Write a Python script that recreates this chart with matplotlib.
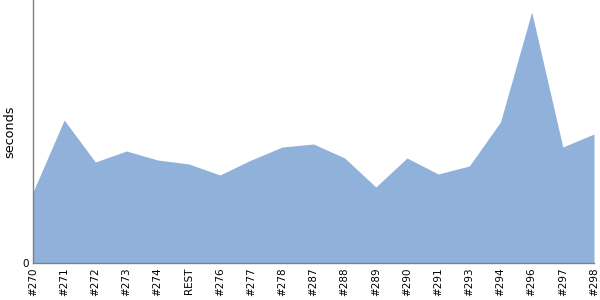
import matplotlib
matplotlib.use("Agg")
import matplotlib.pyplot as plt
import numpy as np

## Data
builds = ["#270", "#271", "#272", "#273", "#274", "REST", "#276", "#277", "#278",
          "#287", "#288", "#289", "#290", "#291", "#293", "#294", "#296", "#297", "#298"]
seconds = [0.71, 1.43, 1.01, 1.12, 1.03, 0.99, 0.88, 1.03, 1.16,
           1.19, 1.05, 0.76, 1.05, 0.89, 0.97, 1.41, 2.51, 1.16, 1.29]

fill_color = "#8fb1da"
axis_color = "#808080"

fig = plt.figure(figsize=(6, 3), dpi=100)
ax = fig.add_axes([33 / 600, 37 / 300, (594 - 33) / 600, 263 / 300])

x = np.arange(len(builds))
ax.fill_between(x, seconds, 0, color=fill_color, linewidth=0)

ax.set_xlim(0, len(builds) - 1)
ax.set_ylim(0, 2.63)

ax.set_xticks(x)
ax.set_xticklabels(builds, rotation=90, fontsize=7.5)
ax.set_yticks([0])
ax.set_yticklabels(["0"], fontsize=7.5)
ax.tick_params(length=0, pad=3)
ax.set_ylabel("seconds", fontsize=9.2)
ax.yaxis.set_label_coords(-17 / 561, 0.5)

for side in ["top", "right"]:
    ax.spines[side].set_visible(False)
for side in ["left", "bottom"]:
    ax.spines[side].set_color(axis_color)
    ax.spines[side].set_linewidth(1)

fig.savefig("out.png", dpi=100)
